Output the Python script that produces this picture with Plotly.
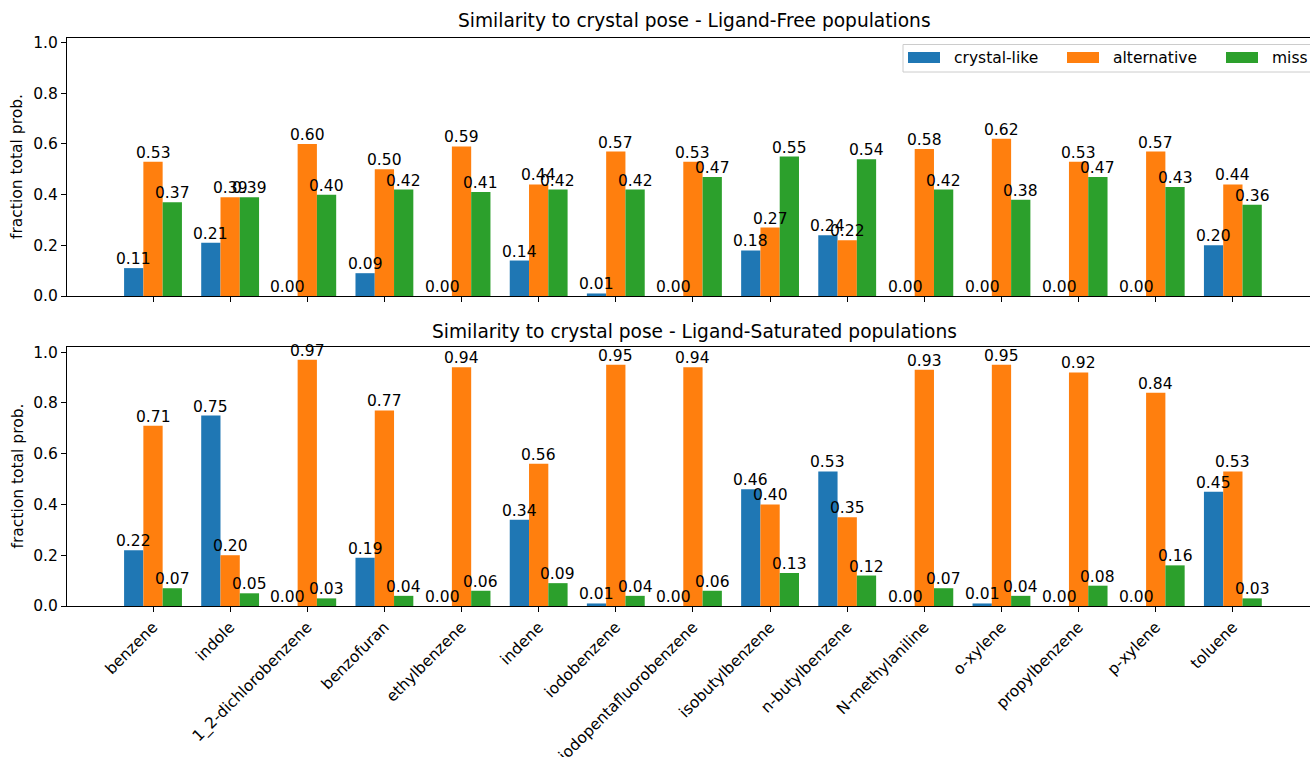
import plotly.graph_objects as go
from plotly.subplots import make_subplots

# Ligands (x categories)
ligands = [
    "benzene", "indole", "1_2-dichlorobenzene", "benzofuran", "ethylbenzene",
    "indene", "iodobenzene", "iodopentafluorobenzene", "isobutylbenzene",
    "n-butylbenzene", "N-methylaniline", "o-xylene", "propylbenzene",
    "p-xylene", "toluene",
]

series_names = ["crystal-like", "alternative", "miss"]
series_colors = ["#1f77b4", "#ff7f0e", "#2ca02c"]

# Ligand-Free populations
free_crystal_like = [0.11, 0.21, 0.00, 0.09, 0.00, 0.14, 0.01, 0.00, 0.18, 0.24, 0.00, 0.00, 0.00, 0.00, 0.20]
free_alternative = [0.53, 0.39, 0.60, 0.50, 0.59, 0.44, 0.57, 0.53, 0.27, 0.22, 0.58, 0.62, 0.53, 0.57, 0.44]
free_miss = [0.37, 0.39, 0.40, 0.42, 0.41, 0.42, 0.42, 0.47, 0.55, 0.54, 0.42, 0.38, 0.47, 0.43, 0.36]

# Ligand-Saturated populations
sat_crystal_like = [0.22, 0.75, 0.00, 0.19, 0.00, 0.34, 0.01, 0.00, 0.46, 0.53, 0.00, 0.01, 0.00, 0.00, 0.45]
sat_alternative = [0.71, 0.20, 0.97, 0.77, 0.94, 0.56, 0.95, 0.94, 0.40, 0.35, 0.93, 0.95, 0.92, 0.84, 0.53]
sat_miss = [0.07, 0.05, 0.03, 0.04, 0.06, 0.09, 0.04, 0.06, 0.13, 0.12, 0.07, 0.04, 0.08, 0.16, 0.03]

panels = [
    ("Similarity to crystal pose - Ligand-Free populations",
     [free_crystal_like, free_alternative, free_miss]),
    ("Similarity to crystal pose - Ligand-Saturated populations",
     [sat_crystal_like, sat_alternative, sat_miss]),
]

W, H = 1310, 757
FONT = "DejaVu Sans"
BAR_W = 0.25
FS = 15.5        # tick / label text size
FS_TITLE = 18.6  # panel title size


def px(x):
    return x / W


def py(y):
    return 1 - y / H


fig = make_subplots(rows=2, cols=1, shared_xaxes=False, vertical_spacing=0.05)

x_idx = list(range(len(ligands)))
annotations = []
for row, (title, series) in enumerate(panels, start=1):
    axn = "" if row == 1 else "2"
    for k, (name, color, vals) in enumerate(zip(series_names, series_colors, series)):
        fig.add_trace(
            go.Bar(
                x=x_idx, y=vals, name=name, marker=dict(color=color, line=dict(width=0)),
                showlegend=False, hoverinfo="x+y+name",
            ),
            row=row, col=1,
        )
        for i, v in enumerate(vals):
            annotations.append(dict(
                x=i + (k - 1) * BAR_W, y=v, xref="x" + axn, yref="y" + axn,
                text=f"{v:.2f}", showarrow=False, xanchor="center", yanchor="bottom",
                borderpad=0, yshift=-1,
                font=dict(family=FONT, size=FS, color="black"),
            ))

# Panel titles and y-axis titles
title_y = [21, 331]
ylabel_y = [167, 476.5]
for (title, _), ty, ly in zip(panels, title_y, ylabel_y):
    annotations.append(dict(
        x=px(694), y=py(ty), xref="paper", yref="paper", text=title, showarrow=False,
        xanchor="center", yanchor="middle", font=dict(family=FONT, size=FS_TITLE, color="black"),
    ))
    annotations.append(dict(
        x=px(17), y=py(ly), xref="paper", yref="paper", text="fraction total prob.",
        showarrow=False, textangle=-90, xanchor="center", yanchor="middle",
        font=dict(family=FONT, size=FS, color="black"),
    ))

# Legend drawn in the upper panel
shapes = [dict(
    type="rect", xref="paper", yref="paper", x0=px(903), x1=px(1330), y0=py(72), y1=py(44.5),
    line=dict(color="#cccccc", width=1), fillcolor="rgba(255,255,255,0.8)", layer="above",
)]
legend_x = [908, 1067, 1226]
for name, color, lx in zip(series_names, series_colors, legend_x):
    shapes.append(dict(
        type="rect", xref="paper", yref="paper", x0=px(lx), x1=px(lx + 32),
        y0=py(63), y1=py(52), line=dict(width=0), fillcolor=color, layer="above",
    ))
    annotations.append(dict(
        x=px(lx + 44), y=py(58), xref="paper", yref="paper", text=name, showarrow=False,
        xanchor="left", yanchor="middle", font=dict(family=FONT, size=FS, color="black"),
    ))

axis_common = dict(
    showline=True, linecolor="black", linewidth=1.1, mirror=True,
    ticks="outside", ticklen=5, tickwidth=1.1, tickcolor="black",
    showgrid=False, zeroline=False, automargin=False,
    tickfont=dict(family=FONT, size=FS, color="black"),
)

x_dom = [px(67), 1.0]
x_range = [-1.115, 15.0]
fig.update_layout(
    width=W, height=H,
    margin=dict(l=0, r=0, t=0, b=0),
    paper_bgcolor="white", plot_bgcolor="white",
    barmode="group", bargap=1 - 3 * BAR_W, bargroupgap=0,
    showlegend=False,
    annotations=annotations, shapes=shapes,
    font=dict(family=FONT, color="black"),
    xaxis=dict(domain=x_dom, range=x_range, tickvals=x_idx, ticktext=ligands,
               showticklabels=False, anchor="y", **axis_common),
    yaxis=dict(domain=[py(296), py(37.5)], range=[0, 1.02], tickvals=[0, 0.2, 0.4, 0.6, 0.8, 1.0],
               tickformat=".1f", anchor="x", **axis_common),
    xaxis2=dict(domain=x_dom, range=x_range, tickvals=x_idx, ticktext=ligands,
                tickangle=-45, anchor="y2", **axis_common),
    yaxis2=dict(domain=[py(606), py(347)], range=[0, 1.02], tickvals=[0, 0.2, 0.4, 0.6, 0.8, 1.0],
                tickformat=".1f", anchor="x2", **axis_common),
)

fig.write_html("out.html")
